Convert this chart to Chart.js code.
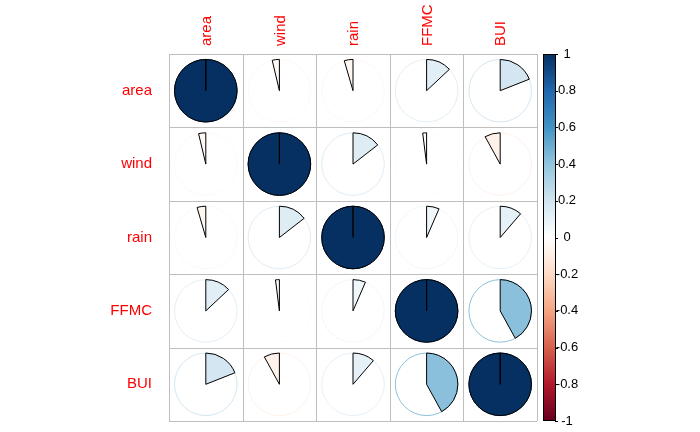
<!DOCTYPE html>
<html>
<head>
<meta charset="utf-8">
<script src="https://cdn.jsdelivr.net/npm/chart.js@4"></script>
<style>
html,body{margin:0;padding:0;background:#fff;}
#wrap{width:700px;height:432px;}
</style>
</head>
<body>
<div id="wrap"><canvas id="c" width="700" height="432"></canvas></div>
<script>
// ---- data ----
const vars = ["area", "wind", "rain", "FFMC", "BUI"];
const corArea = [1.000, -0.037, -0.045, 0.130, 0.190];
const corWind = [-0.037, 1.000, 0.145, -0.020, -0.080];
const corRain = [-0.045, 0.145, 1.000, 0.065, 0.113];
const corFFMC = [0.130, -0.020, 0.065, 1.000, 0.420];
const corBUI  = [0.190, -0.080, 0.113, 0.420, 1.000];
const corRows = [corArea, corWind, corRain, corFFMC, corBUI];
const colorbarTicks = [1, 0.8, 0.6, 0.4, 0.2, 0, -0.2, -0.4, -0.6, -0.8, -1];
const colorbarLabels = ["1", "0.8", "0.6", "0.4", "0.2", "0", "-0.2", "-0.4", "-0.6", "-0.8", "-1"];

// RdBu palette (corrplot COL2) from -1 to 1
const palette = ["#67001F","#B2182B","#D6604D","#F4A582","#FDDBC7","#FFFFFF","#D1E5F0","#92C5DE","#4393C3","#2166AC","#053061"];

function hex2rgb(h){return [parseInt(h.substr(1,2),16),parseInt(h.substr(3,2),16),parseInt(h.substr(5,2),16)];}
function colorFor(v){
  const t = (v + 1) / 2 * (palette.length - 1);
  const i = Math.max(0, Math.min(palette.length - 2, Math.floor(t)));
  const f = t - i;
  const a = hex2rgb(palette[i]), b = hex2rgb(palette[i+1]);
  const c = a.map((x,k)=>Math.round(x + (b[k]-x)*f));
  return `rgb(${c[0]},${c[1]},${c[2]})`;
}

const points = [];
corRows.forEach((row, i) => row.forEach((v, j) => points.push({x: j, y: i, v: v})));

const font = {family: "'Liberation Sans', Arial, sans-serif", size: 15};

const corrPlugin = {
  id: 'corrPie',
  afterDatasetsDraw(chart) {
    const ctx = chart.ctx;
    const xs = chart.scales.x, ys = chart.scales.y;
    const ca = chart.chartArea;
    ctx.save();
    // grid lines at cell boundaries
    ctx.strokeStyle = '#BEBEBE';
    ctx.lineWidth = 1;
    for (let k = 0; k <= vars.length; k++) {
      const px = Math.round(xs.getPixelForValue(k - 0.5)) + 0.5;
      const py = Math.round(ys.getPixelForValue(k - 0.5)) + 0.5;
      ctx.beginPath(); ctx.moveTo(px, ca.top); ctx.lineTo(px, ca.bottom); ctx.stroke();
      ctx.beginPath(); ctx.moveTo(ca.left, py); ctx.lineTo(ca.right, py); ctx.stroke();
    }
    // pies
    const cell = Math.abs(xs.getPixelForValue(1) - xs.getPixelForValue(0));
    const R = cell * 0.425;
    chart.data.datasets[0].data.forEach(p => {
      const cx = xs.getPixelForValue(p.x), cy = ys.getPixelForValue(p.y);
      const col = colorFor(p.v);
      ctx.beginPath();
      ctx.arc(cx, cy, R, 0, Math.PI * 2);
      ctx.strokeStyle = col;
      ctx.lineWidth = 1;
      ctx.stroke();
      const start = -Math.PI / 2;
      const end = start + p.v * Math.PI * 2;
      ctx.beginPath();
      ctx.moveTo(cx, cy);
      ctx.lineTo(cx, cy - R);
      ctx.arc(cx, cy, R, start, end, p.v < 0);
      ctx.closePath();
      ctx.fillStyle = col;
      ctx.fill();
      ctx.strokeStyle = '#000';
      ctx.lineWidth = 1;
      ctx.stroke();
    });
    // colorbar
    const bx = ca.right + 6, bw = 12;
    const top = ca.top, bot = ca.bottom;
    const grad = ctx.createLinearGradient(0, bot, 0, top);
    palette.forEach((c, k) => grad.addColorStop(k / (palette.length - 1), c));
    ctx.fillStyle = grad;
    ctx.fillRect(bx, top, bw, bot - top);
    ctx.strokeStyle = '#000';
    ctx.lineWidth = 1;
    ctx.strokeRect(bx + 0.5, top + 0.5, bw, bot - top - 1);
    ctx.fillStyle = '#000';
    ctx.font = "13px 'Liberation Sans', Arial, sans-serif";
    ctx.textBaseline = 'middle';
    ctx.textAlign = 'center';
    colorbarTicks.forEach((t, k) => {
      const y = bot - (t + 1) / 2 * (bot - top);
      ctx.beginPath();
      ctx.moveTo(bx + bw, Math.round(y) + 0.5);
      ctx.lineTo(bx + bw + 3, Math.round(y) + 0.5);
      ctx.stroke();
      ctx.fillText(colorbarLabels[k], bx + bw + 12, y);
    });
    ctx.restore();
  }
};

new Chart(document.getElementById('c'), {
  type: 'scatter',
  data: { datasets: [{ data: points, pointRadius: 0, pointHoverRadius: 0 }] },
  options: {
    responsive: false,
    animation: false,
    events: [],
    layout: { padding: { left: 0, right: 163, top: 0, bottom: 11 } },
    plugins: { legend: { display: false }, tooltip: { enabled: false } },
    scales: {
      x: {
        type: 'linear', position: 'top', min: -0.5, max: 4.5,
        afterBuildTicks: s => { s.ticks = vars.map((_, i) => ({ value: i })); },
        afterFit: s => { s.height = 54; s.paddingLeft = 0; s.paddingRight = 0; },
        grid: { display: false }, border: { display: false },
        ticks: { color: '#FF0000', font: font, padding: 0, minRotation: 90, maxRotation: 90,
                 labelOffset: 19, callback: v => vars[v] }
      },
      y: {
        type: 'linear', reverse: true, min: -0.5, max: 4.5,
        afterBuildTicks: s => { s.ticks = vars.map((_, i) => ({ value: i })); },
        afterFit: s => { s.width = 169; s.paddingTop = 0; s.paddingBottom = 0; },
        grid: { display: false }, border: { display: false },
        ticks: { color: '#FF0000', font: font, padding: 9, callback: v => vars[v] }
      }
    }
  },
  plugins: [corrPlugin]
});
</script>
</body>
</html>
